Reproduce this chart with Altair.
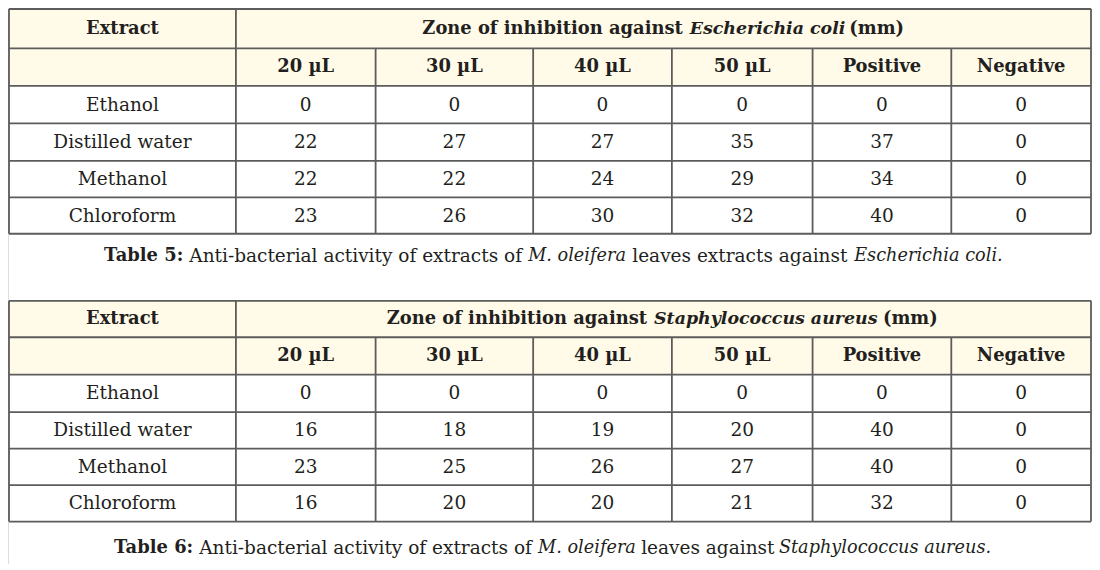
import altair as alt
import pandas as pd

# ---------------- data ----------------
extracts = ["Ethanol", "Distilled water", "Methanol", "Chloroform"]
columns = ["20 µL", "30 µL", "40 µL", "50 µL", "Positive", "Negative"]
ecoli = [
    [0, 0, 0, 0, 0, 0],
    [22, 27, 27, 35, 37, 0],
    [22, 22, 24, 29, 34, 0],
    [23, 26, 30, 32, 40, 0],
]
saureus = [
    [0, 0, 0, 0, 0, 0],
    [16, 18, 19, 20, 40, 0],
    [23, 25, 26, 27, 40, 0],
    [16, 20, 20, 21, 32, 0],
]
first_header = "Extract"
title1_parts = ["Zone of inhibition against", "Escherichia coli", "(mm)"]
title2_parts = ["Zone of inhibition against", "Staphylococcus aureus", "(mm)"]
caption1_parts = ["Table 5:", "Anti-bacterial activity of extracts of", "M. oleifera",
                  "leaves extracts against", "Escherichia coli."]
caption2_parts = ["Table 6:", "Anti-bacterial activity of extracts of", "M. oleifera",
                  "leaves against", "Staphylococcus aureus."]

# ---------------- layout (reference pixel space) ----------------
col_edges = [4, 233, 374, 533, 673, 815, 955, 1096]
row_edges_t1 = [4, 44, 82, 120, 158, 195, 232]
row_edges_t2 = [300, 337, 375, 413, 450, 487, 524]
# anchors: first part right-aligned at its end, others left-aligned at start
title1_anchors = [(684, "right"), (691, "left"), (852, "left")]
title2_anchors = [(648, "right"), (655, "left"), (886, "left")]
caption1_starts = [100, 186, 528, 633, 857]
caption2_starts = [110, 196, 538, 642, 781]
caption_styles = [("bold", "normal"), ("normal", "normal"), ("normal", "italic"),
                  ("normal", "normal"), ("normal", "italic")]
title_styles = [("bold", "normal"), ("bold", "italic"), ("bold", "normal")]
caption_y = [255, 551]

FONT = "DejaVu Serif"
SIZES = {("normal", "normal"): 18.5, ("normal", "italic"): 17.7,
         ("bold", "normal"): 17.9, ("bold", "italic"): 17.4}
TXT = "#231f20"
LINE = "#5c5c5c"
HEAD_FILL = "#fffbe8"

X = dict(scale=alt.Scale(domain=[3, 1097], range=[0, 1084], nice=False, zero=False), axis=None)
Y = dict(scale=alt.Scale(domain=[3, 567], range=[0, 556], nice=False, zero=False), axis=None)

rects, hrules, vrules = [], [], []
texts = []  # x, y, text, weight, style, align


def build_table(rows_edges, values, title_parts, title_anchors):
    top, bottom = rows_edges[0], rows_edges[-1]
    left, right = col_edges[0], col_edges[-1]
    rects.append(dict(x=left, x2=right, y=rows_edges[0], y2=rows_edges[2]))
    for y in rows_edges:
        hrules.append(dict(x=left, x2=right, y=y))
    for i, xe in enumerate(col_edges):
        if i in (0, 1, len(col_edges) - 1):
            vrules.append(dict(x=xe, y=top, y2=bottom))
        else:
            vrules.append(dict(x=xe, y=rows_edges[1], y2=bottom))
    cx = [(col_edges[i] + col_edges[i + 1]) / 2 for i in range(len(col_edges) - 1)]
    cy = [(rows_edges[i] + rows_edges[i + 1]) / 2 for i in range(len(rows_edges) - 1)]
    texts.append(dict(x=cx[0], y=cy[0], text=first_header, weight="bold", style="normal", align="center"))
    for part, (xs, al), (w, s) in zip(title_parts, title_anchors, title_styles):
        texts.append(dict(x=xs, y=cy[0], text=part, weight=w, style=s, align=al))
    for j, c in enumerate(columns):
        texts.append(dict(x=cx[j + 1], y=cy[1], text=c, weight="bold", style="normal", align="center"))
    for i, name in enumerate(extracts):
        texts.append(dict(x=cx[0], y=cy[i + 2], text=name, weight="normal", style="normal", align="center"))
        for j, v in enumerate(values[i]):
            texts.append(dict(x=cx[j + 1], y=cy[i + 2], text=str(v), weight="normal", style="normal", align="center"))


build_table(row_edges_t1, ecoli, title1_parts, title1_anchors)
build_table(row_edges_t2, saureus, title2_parts, title2_anchors)

for parts, starts, yv in [(caption1_parts, caption1_starts, caption_y[0]),
                          (caption2_parts, caption2_starts, caption_y[1])]:
    for part, xs, (w, s) in zip(parts, starts, caption_styles):
        texts.append(dict(x=xs, y=yv, text=part, weight=w, style=s, align="left"))

rect_df = pd.DataFrame(rects)
h_df = pd.DataFrame(hrules)
v_df = pd.DataFrame(vrules)
t_df = pd.DataFrame(texts)

layers = [
    alt.Chart(rect_df).mark_rect(color=HEAD_FILL).encode(
        x=alt.X("x:Q", **X), x2="x2:Q", y=alt.Y("y:Q", **Y), y2="y2:Q"),
    alt.Chart(h_df).mark_rule(color=LINE, strokeWidth=1.8).encode(
        x=alt.X("x:Q", **X), x2="x2:Q", y=alt.Y("y:Q", **Y)),
    alt.Chart(v_df).mark_rule(color=LINE, strokeWidth=1.8).encode(
        x=alt.X("x:Q", **X), y=alt.Y("y:Q", **Y), y2="y2:Q"),
]

for (w, s, a), grp in t_df.groupby(["weight", "style", "align"]):
    layers.append(
        alt.Chart(grp.reset_index(drop=True)).mark_text(
            font=FONT, fontSize=SIZES[(w, s)],
            fontWeight=w, fontStyle=s, align=a, baseline="middle", color=TXT
        ).encode(x=alt.X("x:Q", **X), y=alt.Y("y:Q", **Y), text="text:N")
    )

chart = alt.layer(*layers).properties(
    width=1084, height=556, autosize=alt.AutoSizeParams(type="none"), padding=0
).configure_view(stroke=None).configure(background="white")

chart.save("out.html", embed_options={"renderer": "svg", "actions": False})
